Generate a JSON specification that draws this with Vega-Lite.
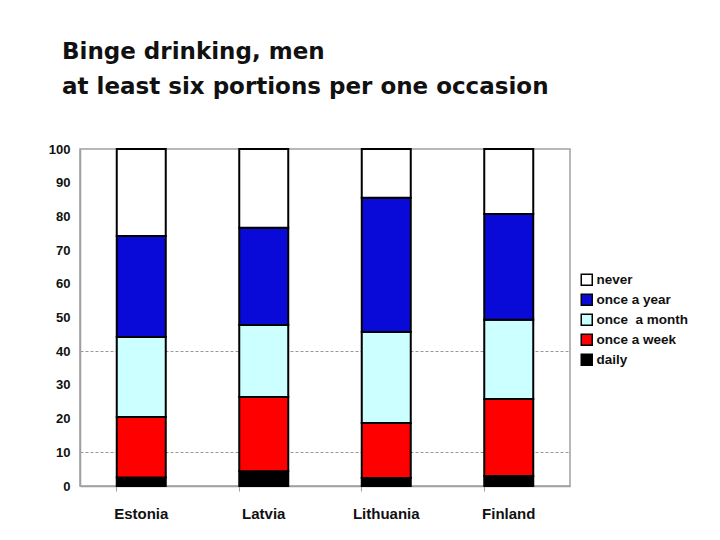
{
  "$schema": "https://vega.github.io/schema/vega-lite/v6.json",
  "width": 490,
  "height": 337,
  "autosize": "none",
  "padding": {"left": 80, "top": 149, "right": 150, "bottom": 54},
  "background": "white",
  "title": {
    "text": ["Binge drinking, men", "at least six portions per one occasion"],
    "anchor": "start",
    "frame": "group",
    "dx": -18,
    "offset": 44,
    "font": "DejaVu Sans",
    "fontWeight": "bold",
    "fontSize": 23,
    "lineHeight": 35,
    "color": "#111111"
  },
  "config": {
    "view": {"stroke": "#a0a0a0", "strokeWidth": 1.5},
    "font": "Liberation Sans"
  },
  "data": {
    "values": [
      {"country": "Estonia", "freq": "daily", "value": 2.5},
      {"country": "Estonia", "freq": "once a week", "value": 18.0},
      {"country": "Estonia", "freq": "once \u00a0a month", "value": 23.7},
      {"country": "Estonia", "freq": "once a year", "value": 30.0},
      {"country": "Estonia", "freq": "never", "value": 25.8},
      {"country": "Latvia", "freq": "daily", "value": 4.4},
      {"country": "Latvia", "freq": "once a week", "value": 22.0},
      {"country": "Latvia", "freq": "once \u00a0a month", "value": 21.4},
      {"country": "Latvia", "freq": "once a year", "value": 28.8},
      {"country": "Latvia", "freq": "never", "value": 23.4},
      {"country": "Lithuania", "freq": "daily", "value": 2.4},
      {"country": "Lithuania", "freq": "once a week", "value": 16.3},
      {"country": "Lithuania", "freq": "once \u00a0a month", "value": 27.0},
      {"country": "Lithuania", "freq": "once a year", "value": 39.8},
      {"country": "Lithuania", "freq": "never", "value": 14.5},
      {"country": "Finland", "freq": "daily", "value": 3.0},
      {"country": "Finland", "freq": "once a week", "value": 22.8},
      {"country": "Finland", "freq": "once \u00a0a month", "value": 23.5},
      {"country": "Finland", "freq": "once a year", "value": 31.4},
      {"country": "Finland", "freq": "never", "value": 19.3}
    ]
  },
  "transform": [
    {"calculate": "indexof(['daily', 'once a week', 'once \u00a0a month', 'once a year', 'never'], datum.freq)", "as": "stackOrder"}
  ],
  "mark": {"type": "bar", "stroke": "black", "strokeWidth": 2},
  "encoding": {
    "x": {
      "field": "country",
      "type": "nominal",
      "sort": ["Estonia", "Latvia", "Lithuania", "Finland"],
      "scale": {"paddingInner": 0.6, "paddingOuter": 0.3},
      "axis": {
        "title": null,
        "labelAngle": 0,
        "labelFont": "Liberation Sans",
        "labelFontWeight": "bold",
        "labelFontSize": 15,
        "labelColor": "#111111",
        "labelPadding": 15,
        "domainColor": "#a0a0a0",
        "domainWidth": 1.5,
        "tickColor": "#a0a0a0",
        "tickSize": 5,
        "bandPosition": 0
      }
    },
    "y": {
      "field": "value",
      "type": "quantitative",
      "stack": "zero",
      "scale": {"domain": [0, 100], "nice": false},
      "axis": {
        "title": null,
        "values": [0, 10, 20, 30, 40, 50, 60, 70, 80, 90, 100],
        "ticks": false,
        "labelFont": "Liberation Sans",
        "labelFontWeight": "bold",
        "labelFontSize": 13,
        "labelColor": "#111111",
        "labelPadding": 10,
        "domainColor": "#a0a0a0",
        "domainWidth": 1.5,
        "grid": true,
        "gridColor": "#999999",
        "gridDash": [3, 2],
        "gridWidth": 1,
        "gridOpacity": {"condition": {"test": "datum.value == 10 || datum.value == 40", "value": 1}, "value": 0}
      }
    },
    "order": {"field": "stackOrder", "type": "quantitative"},
    "color": {
      "field": "freq",
      "type": "nominal",
      "scale": {
        "domain": ["never", "once a year", "once \u00a0a month", "once a week", "daily"],
        "range": ["#ffffff", "#0a0ad8", "#ccffff", "#ff0000", "#000000"]
      },
      "legend": {
        "title": null,
        "orient": "none",
        "legendX": 500,
        "legendY": 124,
        "symbolType": "square",
        "symbolSize": 121,
        "symbolStrokeColor": "black",
        "symbolStrokeWidth": 1.5,
        "symbolOpacity": 1,
        "labelFont": "Liberation Sans",
        "labelFontWeight": "bold",
        "labelFontSize": 13.5,
        "labelColor": "#111111",
        "labelOffset": 3,
        "rowPadding": 2
      }
    }
  }
}
